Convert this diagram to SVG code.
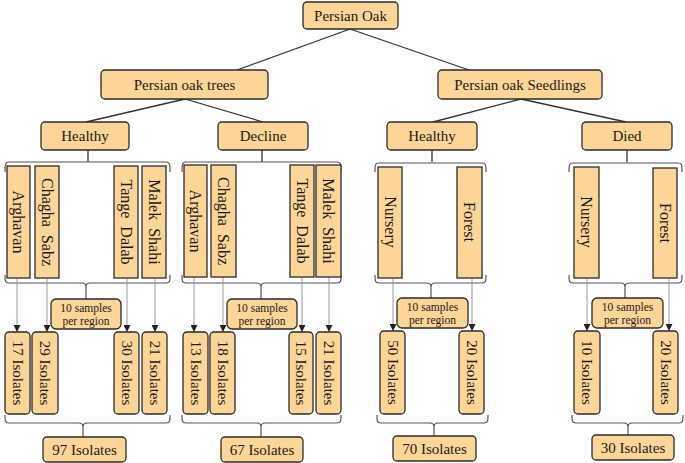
<svg xmlns="http://www.w3.org/2000/svg" width="685" height="463" viewBox="0 0 685 463">
<defs>
<style>
.n{fill:#FDD597;stroke:#2b2b2b;stroke-width:1.3}
.t{font-family:'Liberation Serif','DejaVu Serif','Times New Roman',serif;fill:#1a1a1a;text-anchor:middle;dominant-baseline:central}
.h{font-size:15px}
.r{font-size:16px}
.s{font-size:11.5px}
.tree{stroke:#333;stroke-width:1.3;fill:none}
.br{stroke:#555;stroke-width:1.2;fill:none}
.ar{stroke:#999;stroke-width:1;fill:none;marker-end:url(#ah)}
</style>
<marker id="ah" viewBox="0 0 10 10" refX="10" refY="5" markerWidth="7" markerHeight="7" markerUnits="userSpaceOnUse" orient="auto"><path d="M0,0L10,5L0,10z" fill="#222"/></marker>
</defs>
<rect width="685" height="463" fill="#fff"/>
<g id="connectors">
<path class="tree" d="M350,29L237,70M350,29L469,70M185,99L86,122M185,99L263,122M521,99L433,122M521,99L626,122"/>
<path class="tree" d="M88,150V162M262,150V162M432,150V162M627,150V162"/>
<path class="br" d="M5,172C5,165 5,162 9,162H166C170,162 170,165 170,172"/>
<path class="br" d="M182,172C182,165 182,162 186,162H337C341,162 341,165 341,172"/>
<path class="br" d="M375,172C375,165 375,163 379,163H482C486,163 486,165 486,172"/>
<path class="br" d="M569,172C569,165 569,163 573,163H678C682,163 682,165 682,172"/>
<path class="br" d="M5,275C5,281 5,283 9,283H82Q86,283 86,287Q86,283 90,283H166C170,283 170,281 170,275"/>
<path class="br" d="M182,275C182,281 182,283 186,283H257Q261,283 261,287Q261,283 265,283H337C341,283 341,281 341,275"/>
<path class="br" d="M375,275C375,281 375,283 379,283H427Q431,283 431,287Q431,283 435,283H482C486,283 486,281 486,275"/>
<path class="br" d="M569,275C569,281 569,283 573,283H621Q625,283 625,287Q625,283 629,283H678C682,283 682,281 682,275"/>
<path class="br" d="M86,287V299M261,287V299M431,287V298M625,287V298"/>
<path class="br" d="M5,415C5,421 5,423 9,423H79Q83,423 83,427Q83,423 87,423H166C170,423 170,421 170,415"/>
<path class="br" d="M182,415C182,421 182,423 186,423H257Q261,423 261,427Q261,423 265,423H337C341,423 341,421 341,415"/>
<path class="br" d="M377,415C377,421 377,423 381,423H430Q434,423 434,427Q434,423 438,423H484C488,423 488,421 488,415"/>
<path class="br" d="M572,415C572,421 572,423 576,423H624Q628,423 628,427Q628,423 632,423H679C683,423 683,421 683,415"/>
<path class="br" d="M83,427V437M261,427V437M434,427V436M628,427V435"/>
<line class="ar" x1="17" y1="278" x2="17" y2="332"/>
<line class="ar" x1="47" y1="278" x2="47" y2="332"/>
<line class="ar" x1="127" y1="278" x2="127" y2="332"/>
<line class="ar" x1="155" y1="278" x2="155" y2="332"/>
<line class="ar" x1="194" y1="277" x2="194" y2="332"/>
<line class="ar" x1="223" y1="277" x2="223" y2="332"/>
<line class="ar" x1="302" y1="277" x2="302" y2="332"/>
<line class="ar" x1="329" y1="277" x2="329" y2="332"/>
<line class="ar" x1="393" y1="278" x2="393" y2="331"/>
<line class="ar" x1="472" y1="278" x2="472" y2="331"/>
<line class="ar" x1="587" y1="278" x2="587" y2="331"/>
<line class="ar" x1="669" y1="278" x2="669" y2="331"/>
</g>
<g id="persian-oak"><rect class="n" x="303" y="2" width="95" height="27" rx="4"/><text class="t h" x="350.5" y="16">Persian Oak</text></g>
<g id="trees"><rect class="n" x="101" y="70" width="167" height="29" rx="4"/><text class="t h" x="184.5" y="85">Persian oak trees</text></g>
<g id="seedlings"><rect class="n" x="438" y="70" width="164" height="29" rx="4"/><text class="t h" x="520" y="85">Persian oak Seedlings</text></g>
<g id="healthy1"><rect class="n" x="41" y="122" width="88" height="28" rx="4"/><text class="t h" x="85" y="136">Healthy</text></g>
<g id="decline"><rect class="n" x="218" y="122" width="90" height="28" rx="4"/><text class="t h" x="263" y="136">Decline</text></g>
<g id="healthy2"><rect class="n" x="387" y="122" width="90" height="28" rx="4"/><text class="t h" x="432" y="136">Healthy</text></g>
<g id="died"><rect class="n" x="582" y="122" width="90" height="28" rx="4"/><text class="t h" x="627" y="136">Died</text></g>
<g id="r1"><rect class="n" x="7" y="166" width="23" height="112"/><text class="t r" transform="translate(18.5,222) rotate(90)">Arghavan</text></g>
<g id="r2"><rect class="n" x="35" y="166" width="24" height="112"/><text class="t r" xml:space="preserve" transform="translate(47,222) rotate(90)">Chagha  Sabz</text></g>
<g id="r3"><rect class="n" x="114" y="166" width="24" height="112"/><text class="t r" xml:space="preserve" transform="translate(126,222) rotate(90)">Tange  Dalab</text></g>
<g id="r4"><rect class="n" x="142" y="166" width="24" height="112"/><text class="t r" xml:space="preserve" transform="translate(154,222) rotate(90)">Malek  Shahi</text></g>
<g id="r5"><rect class="n" x="184" y="165" width="23" height="112"/><text class="t r" transform="translate(195.5,221) rotate(90)">Arghavan</text></g>
<g id="r6"><rect class="n" x="211" y="165" width="25" height="112"/><text class="t r" xml:space="preserve" transform="translate(223.5,221) rotate(90)">Chagha  Sabz</text></g>
<g id="r7"><rect class="n" x="290" y="165" width="24" height="112"/><text class="t r" xml:space="preserve" transform="translate(302,221) rotate(90)">Tange  Dalab</text></g>
<g id="r8"><rect class="n" x="316" y="165" width="25" height="112"/><text class="t r" xml:space="preserve" transform="translate(328.5,221) rotate(90)">Malek  Shahi</text></g>
<g id="r9"><rect class="n" x="378" y="167" width="24" height="111"/><text class="t r" transform="translate(390,222) rotate(90)">Nursery</text></g>
<g id="r10"><rect class="n" x="457" y="167" width="25" height="111"/><text class="t r" transform="translate(469.5,222) rotate(90)">Forest</text></g>
<g id="r11"><rect class="n" x="574" y="167" width="25" height="111"/><text class="t r" transform="translate(586.5,222) rotate(90)">Nursery</text></g>
<g id="r12"><rect class="n" x="653" y="168" width="24" height="110"/><text class="t r" transform="translate(665,223) rotate(90)">Forest</text></g>
<g id="s1"><rect class="n" x="51" y="299" width="70" height="30" rx="5"/><text class="t s" x="86" y="308">10 samples</text><text class="t s" x="86" y="321">per region</text></g>
<g id="s2"><rect class="n" x="227" y="299" width="70" height="30" rx="5"/><text class="t s" x="262" y="308">10 samples</text><text class="t s" x="262" y="321">per region</text></g>
<g id="s3"><rect class="n" x="397" y="298" width="71" height="30" rx="5"/><text class="t s" x="432.5" y="307">10 samples</text><text class="t s" x="432.5" y="320">per region</text></g>
<g id="s4"><rect class="n" x="592" y="298" width="71" height="30" rx="5"/><text class="t s" x="627.5" y="307">10 samples</text><text class="t s" x="627.5" y="320">per region</text></g>
<g id="i1"><rect class="n" x="5" y="332" width="25" height="82" rx="4"/><text class="t h" transform="translate(17.5,373) rotate(90)">17 Isolates</text></g>
<g id="i2"><rect class="n" x="32" y="332" width="26" height="82" rx="4"/><text class="t h" transform="translate(45,373) rotate(90)">29 Isolates</text></g>
<g id="i3"><rect class="n" x="114" y="332" width="25" height="82" rx="4"/><text class="t h" transform="translate(126.5,373) rotate(90)">30 Isolates</text></g>
<g id="i4"><rect class="n" x="142" y="332" width="25" height="82" rx="4"/><text class="t h" transform="translate(154.5,373) rotate(90)">21 Isolates</text></g>
<g id="i5"><rect class="n" x="183" y="332" width="25" height="82" rx="4"/><text class="t h" transform="translate(195.5,373) rotate(90)">13 Isolates</text></g>
<g id="i6"><rect class="n" x="210" y="332" width="25" height="82" rx="4"/><text class="t h" transform="translate(222.5,373) rotate(90)">18 Isolates</text></g>
<g id="i7"><rect class="n" x="289" y="332" width="24" height="82" rx="4"/><text class="t h" transform="translate(301,373) rotate(90)">15 Isolates</text></g>
<g id="i8"><rect class="n" x="316" y="332" width="25" height="82" rx="4"/><text class="t h" transform="translate(328.5,373) rotate(90)">21 Isolates</text></g>
<g id="i9"><rect class="n" x="380" y="331" width="25" height="83" rx="4"/><text class="t h" transform="translate(392.5,372.5) rotate(90)">50 Isolates</text></g>
<g id="i10"><rect class="n" x="459" y="331" width="25" height="83" rx="4"/><text class="t h" transform="translate(471.5,372.5) rotate(90)">20 Isolates</text></g>
<g id="i11"><rect class="n" x="574" y="331" width="26" height="83" rx="4"/><text class="t h" transform="translate(587,372.5) rotate(90)">10 Isolates</text></g>
<g id="i12"><rect class="n" x="653" y="331" width="25" height="83" rx="4"/><text class="t h" transform="translate(665.5,372.5) rotate(90)">20 Isolates</text></g>
<g id="t1"><rect class="n" x="43" y="437" width="83" height="25" rx="4"/><text class="t h" x="84.5" y="449.5">97 Isolates</text></g>
<g id="t2"><rect class="n" x="221" y="437" width="82" height="25" rx="4"/><text class="t h" x="262" y="449.5">67 Isolates</text></g>
<g id="t3"><rect class="n" x="393" y="436" width="83" height="25" rx="4"/><text class="t h" x="434.5" y="448.5">70 Isolates</text></g>
<g id="t4"><rect class="n" x="592" y="435" width="82" height="25" rx="4"/><text class="t h" x="633" y="447.5">30 Isolates</text></g>
</svg>
